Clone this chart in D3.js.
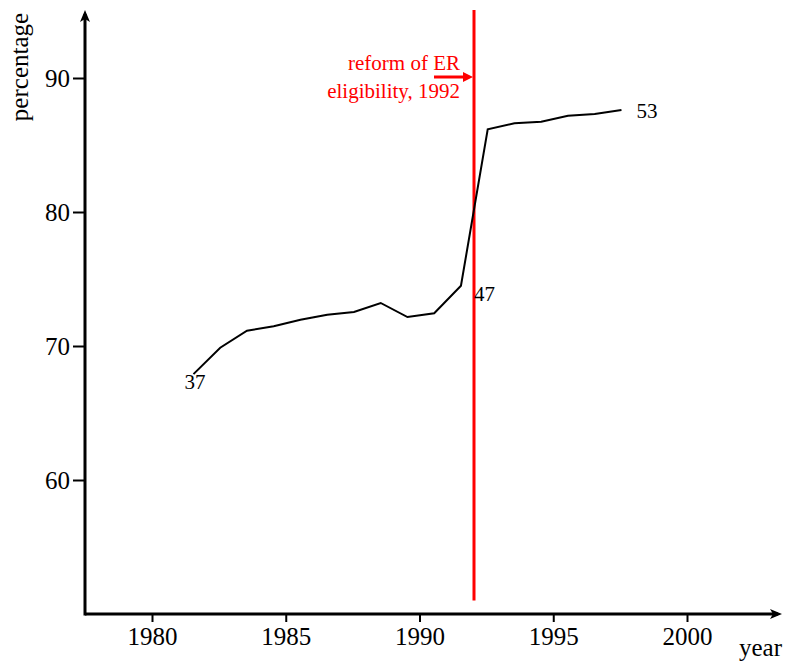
<!DOCTYPE html>
<html>
<head>
<meta charset="utf-8">
<script src="https://cdn.jsdelivr.net/npm/d3@7"></script>
<style>
  html, body { margin: 0; padding: 0; background: #fff; }
  svg { display: block; }
  text { font-family: "Liberation Serif", "Times New Roman", serif; }
</style>
</head>
<body>
<svg id="chart" width="790" height="664"></svg>
<script>
// ---- data ----
const years = [1981.55, 1982.55, 1983.55, 1984.55, 1985.55, 1986.55, 1987.55, 1988.55, 1989.55,
               1990.55, 1991.55, 1992.55, 1993.55, 1994.55, 1995.55, 1996.55, 1997.55];
const percentage = [67.9, 69.87, 71.14, 71.47, 71.96, 72.34, 72.54, 73.21, 72.16,
                    72.44, 74.5, 86.17, 86.62, 86.74, 87.19, 87.31, 87.61];
const xTicks = [1980, 1985, 1990, 1995, 2000];
const yTicks = [60, 70, 80, 90];
const pointLabels = [
  { index: 0, text: "37" },
  { index: 10, text: "47" },
  { index: 16, text: "53" }
];
const reformYear = 1992;
const reformText = ["reform of ER", "eligibility, 1992"];
const xLabel = "year";
const yLabel = "percentage";

// ---- layout ----
const svg = d3.select("#chart");
const x = d3.scaleLinear().domain([1980, 2000]).range([152, 687]);
const y = d3.scaleLinear().domain([50, 90]).range([614, 78]);
const xLeft = 85, xRight = 782, yBottom = 614, yTop = 10;

// x axis
const gx = svg.append("g").attr("transform", `translate(0,${yBottom})`)
  .call(d3.axisBottom(x).tickValues(xTicks).tickFormat(d3.format("d")).tickSize(8).tickSizeOuter(0).tickPadding(5));
gx.select(".domain").remove();
gx.selectAll(".tick line").attr("stroke", "#000").attr("stroke-width", 2);
gx.selectAll(".tick text").attr("font-size", 25).attr("fill", "#000")
  .attr("font-family", "Liberation Serif, serif");

// y axis
const gy = svg.append("g").attr("transform", `translate(${xLeft},0)`)
  .call(d3.axisLeft(y).tickValues(yTicks).tickSize(12).tickSizeOuter(0).tickPadding(3));
gy.select(".domain").remove();
gy.selectAll(".tick line").attr("stroke", "#000").attr("stroke-width", 2);
gy.selectAll(".tick text").attr("font-size", 25).attr("fill", "#000")
  .attr("font-family", "Liberation Serif, serif");

// axis lines with arrows
svg.append("line").attr("x1", xLeft).attr("x2", xRight - 4).attr("y1", yBottom).attr("y2", yBottom)
  .attr("stroke", "#000").attr("stroke-width", 3);
svg.append("line").attr("x1", xLeft).attr("x2", xLeft).attr("y1", yBottom + 1.5).attr("y2", yTop + 4)
  .attr("stroke", "#000").attr("stroke-width", 3);
svg.append("path")
  .attr("d", `M${xRight},${yBottom} L${xRight - 12},${yBottom - 5} L${xRight - 9},${yBottom} L${xRight - 12},${yBottom + 5} Z`)
  .attr("fill", "#000");
svg.append("path")
  .attr("d", `M${xLeft},${yTop} L${xLeft - 5},${yTop + 12} L${xLeft},${yTop + 9} L${xLeft + 5},${yTop + 12} Z`)
  .attr("fill", "#000");

// axis titles
svg.append("text").attr("x", 782).attr("y", 656).attr("text-anchor", "end")
  .attr("font-size", 25).text(xLabel);
svg.append("text").attr("transform", `translate(28,67) rotate(-90)`).attr("text-anchor", "middle")
  .attr("font-size", 25).text(yLabel);

// reform line
svg.append("line").attr("x1", x(reformYear) + 1).attr("x2", x(reformYear) + 1)
  .attr("y1", yTop).attr("y2", y(51))
  .attr("stroke", "#ff0000").attr("stroke-width", 3);

// annotation arrow
const ay = y(90) - 1;
const rx = x(reformYear) + 1;
svg.append("line").attr("x1", 434).attr("x2", rx - 8).attr("y1", ay).attr("y2", ay)
  .attr("stroke", "#ff0000").attr("stroke-width", 3);
svg.append("path")
  .attr("d", `M${rx - 1},${ay} L${rx - 11},${ay - 5} L${rx - 11},${ay + 5} Z`)
  .attr("fill", "#ff0000");
svg.append("text").attr("x", 460).attr("y", 70).attr("text-anchor", "end")
  .attr("font-size", 21).attr("fill", "#ff0000").text(reformText[0]);
svg.append("text").attr("x", 460).attr("y", 98).attr("text-anchor", "end")
  .attr("font-size", 21).attr("fill", "#ff0000").text(reformText[1]);

// data line
const line = d3.line().x((d, i) => x(years[i])).y(d => y(d));
svg.append("path").datum(percentage).attr("d", line)
  .attr("fill", "none").attr("stroke", "#000").attr("stroke-width", 2);

// point labels
const labelOffsets = { 0: [-9, 15], 10: [13, 15], 16: [15, 8] };
svg.selectAll(".plabel").data(pointLabels).enter().append("text")
  .attr("class", "plabel")
  .attr("x", d => x(years[d.index]) + labelOffsets[d.index][0])
  .attr("y", d => y(percentage[d.index]) + labelOffsets[d.index][1])
  .attr("font-size", 21).attr("fill", "#000").text(d => d.text);
</script>
</body>
</html>
